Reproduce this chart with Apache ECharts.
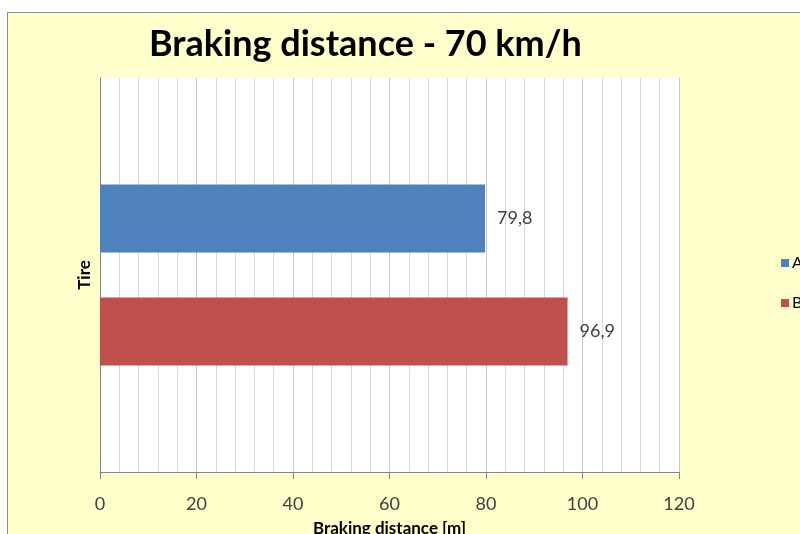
<!DOCTYPE html>
<html>
<head>
<meta charset="utf-8">
<title>Braking distance - 70 km/h</title>
<script src="https://cdn.jsdelivr.net/npm/echarts@6/dist/echarts.min.js"></script>
<style>
  html, body { margin: 0; padding: 0; background: #fff; }
  .frame {
    position: absolute; left: 7px; top: 12px; right: 0; bottom: 0;
    background: #ffffcc;
    border-top: 1px solid #8c8c8c;
    border-left: 1px solid #8c8c8c;
  }
  #chart { position: absolute; left: 0; top: 0; width: 800px; height: 534px; }
</style>
</head>
<body>
<div class="frame"></div>
<div id="chart"></div>
<script>
// data
const categories = ['Tire']
const seriesNames = ['A', 'B']
const valuesA = [79.8]
const valuesB = [96.9]
const xTicks = { min: 0, max: 120, interval: 20 }

const colors = { A: '#4f81bd', B: '#c0504d', text: '#404040', grid: '#d9d9d9', axis: '#868686' }
const font = 'Lato, "Open Sans", sans-serif'

const chart = echarts.init(document.getElementById('chart'))

const commaLabel = p => String(p.value).replace('.', ',')

chart.setOption({
  backgroundColor: 'transparent',
  animation: false,
  title: {
    text: 'Braking distance - 70 km/h',
    left: 144,
    top: 21,
    textStyle: { fontFamily: font, fontSize: 36, fontWeight: 'bold', color: '#000' }
  },
  legend: {
    orient: 'vertical',
    left: 776,
    top: 250,
    itemWidth: 8,
    itemHeight: 8,
    itemGap: 24,
    icon: 'rect',
    data: seriesNames,
    textStyle: { fontFamily: font, fontSize: 16, color: '#000', padding: [0, 0, 0, -2] }
  },
  grid: {
    left: 100, top: 78, width: 579, height: 394,
    outerBoundsMode: 'none', containLabel: false,
    backgroundColor: '#fff', show: true, borderWidth: 0
  },
  xAxis: {
    type: 'value',
    min: xTicks.min,
    max: xTicks.max,
    interval: xTicks.interval,
    name: 'Braking distance [m]',
    nameLocation: 'middle',
    nameGap: 48,
    nameTextStyle: { fontFamily: font, fontSize: 17, fontWeight: 'bold', color: '#000' },
    axisLine: { show: true, lineStyle: { color: colors.axis } },
    axisTick: { show: true, length: 7, lineStyle: { color: colors.axis } },
    axisLabel: { fontFamily: font, fontSize: 18, color: colors.text, margin: 23 },
    splitLine: { show: true, lineStyle: { color: '#c8c8c8' } },
    minorTick: { show: false, splitNumber: 5 },
    minorSplitLine: { show: true, lineStyle: { color: colors.grid } }
  },
  yAxis: {
    type: 'category',
    inverse: true,
    data: categories,
    name: 'Tire',
    nameLocation: 'middle',
    nameGap: 7,
    nameTextStyle: { fontFamily: font, fontSize: 17, fontWeight: 'bold', color: '#000' },
    axisLine: { show: true, lineStyle: { color: colors.axis } },
    axisTick: { show: false },
    axisLabel: { show: false }
  },
  series: [
    {
      name: seriesNames[0],
      type: 'bar',
      data: valuesA,
      barWidth: 68,
      barGap: '66%',
      itemStyle: { color: colors.A },
      label: { show: true, position: 'right', distance: 12, formatter: commaLabel,
        fontFamily: font, fontSize: 18, color: colors.text }
    },
    {
      name: seriesNames[1],
      type: 'bar',
      data: valuesB,
      barWidth: 68,
      barGap: '66%',
      itemStyle: { color: colors.B },
      label: { show: true, position: 'right', distance: 12, formatter: commaLabel,
        fontFamily: font, fontSize: 18, color: colors.text }
    }
  ]
})
</script>
</body>
</html>
